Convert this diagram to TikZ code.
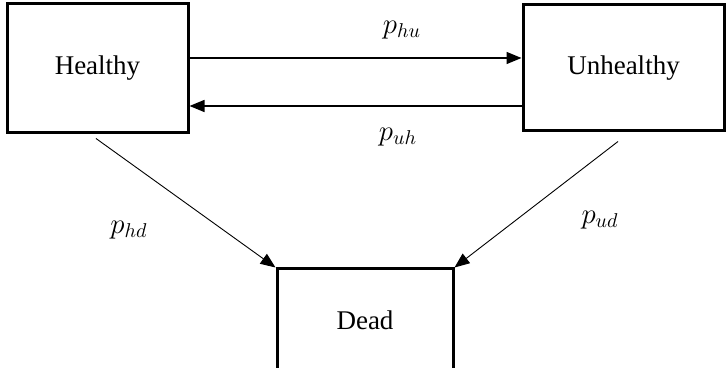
\documentclass[tikz,border=0pt]{standalone}
\usepackage{fontspec}
\setmainfont{Liberation Serif}
\usetikzlibrary{arrows.meta,calc}
\tikzset{
  state/.style={draw, line width=1.5pt, fill=white, inner sep=0pt,
    font=\fontsize{13.5}{16}\selectfont},
  flow/.style={line width=0.7pt, -{Triangle[length=7.5pt,width=6pt]}},
  slant/.style={line width=0.45pt, -{Triangle[length=7.5pt,width=6pt]}},
  rate/.style={font=\fontsize{14.5}{17}\selectfont}
}
\begin{document}
\begin{tikzpicture}[x=0.5pt,y=-0.5pt]
  \useasboundingbox (0,0) rectangle (727,368);
  % the three states
  \node[state, minimum width=90.5pt, minimum height=64.5pt] (H) at (97.5,68.5) {Healthy};
  \node[state, minimum width=100.5pt, minimum height=63pt] (U) at (623.5,68) {Unhealthy};
  \node[state, minimum width=88pt, minimum height=51pt] (D) at (365,320) {Dead};
  % transitions between the living states
  \draw[flow] ($(H.east)+(0,-10.5)$) -- ($(U.west)+(0,-10)$);
  \draw[flow] ($(U.west)+(0,38)$) -- ($(H.east)+(0,37.5)$);
  % transitions to death
  \draw[slant] ($(H.south)+(-1.5,4)$) -- (D.north west);
  \draw[slant] ($(U.south)+(-5.5,9)$) -- (D.north east);
  % transition probabilities
  \node[rate] (phu) at (402,30) {$p_{hu}$};
  \node[rate] (puh) at (398,137) {$p_{uh}$};
  \node[rate] (phd) at (129,230) {$p_{hd}$};
  \node[rate] (pud) at (600,220) {$p_{ud}$};
\end{tikzpicture}
\end{document}
